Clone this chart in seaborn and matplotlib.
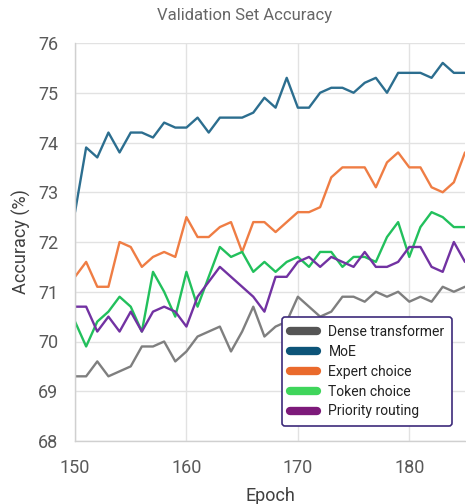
import numpy as np
import pandas as pd
import matplotlib
matplotlib.use("Agg")
import matplotlib.pyplot as plt
import seaborn as sns
from matplotlib.lines import Line2D

epochs = list(range(150, 186))

dense = [69.3, 69.3, 69.6, 69.3, 69.4, 69.5, 69.9, 69.9, 70.0, 69.6, 69.8, 70.1,
         70.2, 70.3, 69.8, 70.2, 70.7, 70.1, 70.3, 70.4, 70.9, 70.7, 70.5, 70.6,
         70.9, 70.9, 70.8, 71.0, 70.9, 71.0, 70.8, 70.9, 70.8, 71.1, 71.0, 71.1]
moe = [72.6, 73.9, 73.7, 74.2, 73.8, 74.2, 74.2, 74.1, 74.4, 74.3, 74.3, 74.5,
       74.2, 74.5, 74.5, 74.5, 74.6, 74.9, 74.7, 75.3, 74.7, 74.7, 75.0, 75.1,
       75.1, 75.0, 75.2, 75.3, 75.0, 75.4, 75.4, 75.4, 75.3, 75.6, 75.4, 75.4]
expert = [71.3, 71.6, 71.1, 71.1, 72.0, 71.9, 71.5, 71.7, 71.8, 71.7, 72.5, 72.1,
          72.1, 72.3, 72.4, 71.8, 72.4, 72.4, 72.2, 72.4, 72.6, 72.6, 72.7, 73.3,
          73.5, 73.5, 73.5, 73.1, 73.6, 73.8, 73.5, 73.5, 73.1, 73.0, 73.2, 73.8]
token = [70.4, 69.9, 70.4, 70.6, 70.9, 70.7, 70.2, 71.4, 71.0, 70.5, 71.4, 70.7,
         71.3, 71.9, 71.7, 71.8, 71.4, 71.6, 71.4, 71.6, 71.7, 71.5, 71.8, 71.8,
         71.5, 71.7, 71.7, 71.6, 72.1, 72.4, 71.7, 72.3, 72.6, 72.5, 72.3, 72.3]
priority = [70.7, 70.7, 70.2, 70.5, 70.2, 70.6, 70.2, 70.6, 70.7, 70.6, 70.3, 70.9,
            71.2, 71.5, 71.3, 71.1, 70.9, 70.6, 71.3, 71.3, 71.6, 71.7, 71.5, 71.7,
            71.6, 71.5, 71.8, 71.5, 71.5, 71.6, 71.9, 71.9, 71.5, 71.4, 72.0, 71.6]

series_names = ["Dense transformer", "MoE", "Expert choice", "Token choice", "Priority routing"]
series_values = [dense, moe, expert, token, priority]
line_colors = ["#7f7f7f", "#2c6e8f", "#ef7d44", "#22c05c", "#7232a2"]
legend_colors = ["#555555", "#0d5478", "#ea6a2c", "#3fd55b", "#7d1a7a"]

x_ticks = [150, 160, 170, 180]
y_ticks = [68, 69, 70, 71, 72, 73, 74, 75, 76]

df = pd.DataFrame({
    "Epoch": epochs * len(series_names),
    "Accuracy": [v for s in series_values for v in s],
    "Model": [n for n in series_names for _ in epochs],
})

sns.set_theme(style="whitegrid")
plt.rcParams["font.family"] = ["Roboto", "DejaVu Sans"]

fig = plt.figure(figsize=(4.66, 5.04), dpi=100)
ax = fig.add_axes([75 / 466, 1 - 441 / 504, 390 / 466, 398 / 504])

sns.lineplot(data=df, x="Epoch", y="Accuracy", hue="Model",
             palette=dict(zip(series_names, line_colors)),
             linewidth=1.7, ax=ax, legend=False)

ax.set_xlim(150, 185)
ax.set_ylim(68, 76)
ax.set_xticks(x_ticks)
ax.set_yticks(y_ticks)
text_color = "#595959"
ax.tick_params(axis="both", labelsize=13, colors=text_color, length=0)
ax.tick_params(axis="x", pad=13)
ax.tick_params(axis="y", pad=12)
ax.grid(True, color="#e2e2e2", linewidth=1.0)
for side in ["top", "right"]:
    ax.spines[side].set_visible(False)
for side in ["left", "bottom"]:
    ax.spines[side].set_color("#d0d0d0")
    ax.spines[side].set_linewidth(1.0)

ax.set_xlabel("Epoch", fontsize=13, color="#404040", labelpad=7)
ax.set_ylabel("Accuracy (%)", fontsize=13, color="#404040", labelpad=5)
fig.suptitle("Validation Set Accuracy", x=0.525, y=0.985, fontsize=12, color="#666666")

handles = [Line2D([0], [0], color=c, lw=6, solid_capstyle="round") for c in legend_colors]
leg = ax.legend(handles, series_names, loc="lower right", bbox_to_anchor=(0.985, 0.02),
                fontsize=10, frameon=True, fancybox=True, handlelength=2.0,
                handletextpad=0.8, labelspacing=0.42, borderpad=0.55)
leg.get_frame().set_edgecolor("#3d2a7a")
leg.get_frame().set_linewidth(1.2)
leg.get_frame().set_facecolor("white")
leg.get_frame().set_alpha(1.0)
for t in leg.get_texts():
    t.set_color("#222222")

fig.savefig("out.png", dpi=100)
